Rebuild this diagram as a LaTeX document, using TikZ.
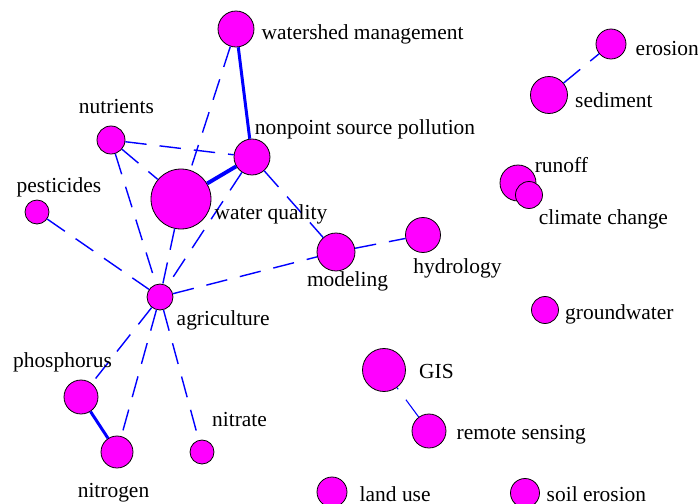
\documentclass[tikz,border=0pt]{standalone}
\usepackage{fontspec}
\setmainfont{Liberation Serif}
\usepackage{xcolor}
\usepackage{tikz}
\usetikzlibrary{positioning}

\definecolor{vcol}{RGB}{255,0,255}
\definecolor{ecol}{RGB}{0,0,255}

\begin{document}
\begin{tikzpicture}[x=0.02cm,y=-0.02cm,
		vert/.style={circle,draw=black,line width=0.45pt,fill=vcol,inner sep=0pt,minimum size=#1},
		lbl/.style={inner sep=0pt,text height=0.3cm,text depth=0.11cm,font=\fontsize{12.2pt}{14pt}\selectfont},
		weak/.style={draw=ecol,line width=0.8pt,dash pattern=on 0.43cm off 0.26cm},
		strong/.style={draw=ecol,line width=1.7pt}]
		\useasboundingbox (0,0) rectangle (698,504);
		% vertices
		\node[vert=0.72cm] (ws) at (236,29) {};
		\node[vert=0.56cm] (nu) at (111,140) {};
		\node[vert=0.72cm] (np) at (252,157) {};
		\node[vert=0.48cm] (pe) at (37,212) {};
		\node[vert=1.2cm] (wq) at (181,199) {};
		\node[vert=0.76cm] (mo) at (336,252) {};
		\node[vert=0.70cm] (hy) at (423,235) {};
		\node[vert=0.52cm] (ag) at (160,297) {};
		\node[vert=0.68cm] (ph) at (81,397) {};
		\node[vert=0.64cm] (ni) at (117,452) {};
		\node[vert=0.48cm] (nt) at (202,452) {};
		\node[vert=0.6cm] (er) at (611,44) {};
		\node[vert=0.74cm] (se) at (549,95) {};
		\node[vert=0.72cm] (ru) at (518,183) {};
		\node[vert=0.54cm] (cc) at (529,195) {};
		\node[vert=0.54cm] (gw) at (545,310) {};
		\node[vert=0.86cm] (gis) at (384,370) {};
		\node[vert=0.68cm] (rs) at (429,431) {};
		\node[vert=0.6cm] (lu) at (332,492) {};
		\node[vert=0.58cm] (so) at (525,493) {};
		
		% edges
		\draw[strong] (ws) -- (np);
		\draw[strong,line width=2.2pt] (wq) -- (np);
		\draw[strong] (ph) -- (ni);
		\draw[weak] (ws) -- (wq);
		\draw[weak] (nu) -- (np);
		\draw[weak] (nu) -- (wq);
		\draw[weak] (nu) -- (ag);
		\draw[weak] (pe) -- (ag);
		\draw[weak] (wq) -- (ag);
		\draw[weak] (np) -- (ag);
		\draw[weak] (np) -- (mo);
		\draw[weak] (ag) -- (mo);
		\draw[weak] (mo) -- (hy);
		\draw[weak] (ag) -- (ph);
		\draw[weak] (ag) -- (ni);
		\draw[weak] (ag) -- (nt);
		\draw[weak] (se) -- (er);
		\draw[weak,line width=0.6pt] (rs) -- (gis);
		
		% labels
		\node[lbl,right=0.14cm of ws.east,yshift=-0.12cm] (wsl) {watershed management};
		\node[lbl,above=0.12cm of nu.north,xshift=0.11cm] (nul) {nutrients};
		\node[lbl,right=0.05cm of np.north,yshift=0.17cm] (npl) {nonpoint source pollution};
		\node[lbl,above=0.03cm of pe.north,xshift=0.44cm] (pel) {pesticides};
		\node[lbl,right=0.06cm of wq.east,yshift=-0.32cm] (wql) {water quality};
		\node[lbl,below=-0.01cm of mo.south,xshift=0.23cm] (mol) {modeling};
		\node[lbl,below=0.11cm of hy.south,xshift=0.69cm] (hyl) {hydrology};
		\node[lbl,right=0.06cm of ag.east,yshift=-0.47cm] (agl) {agriculture};
		\node[lbl,above=0.13cm of ph.north,xshift=-0.37cm] (phl) {phosphorus};
		\node[lbl,below=0.27cm of ni.south,xshift=-0.07cm] (nil) {nitrogen};
		\node[lbl,above=0.15cm of nt.north,xshift=0.75cm] (ntl) {nitrate};
		\node[lbl,right=0.18cm of er.east,yshift=-0.14cm] (erl) {erosion};
		\node[lbl,right=0.14cm of se.east,yshift=-0.15cm] (sel) {sediment};
		\node[lbl,right=0.33cm of ru.north,yshift=-0.07cm] (rul) {runoff};
		\node[lbl,right=0.19cm of cc.south,yshift=-0.21cm] (ccl) {climate change};
		\node[lbl,right=0.12cm of gw.east,yshift=-0.1cm] (gwl) {groundwater};
		\node[lbl,right=0.26cm of gis.east,yshift=-0.07cm] (gisl) {GIS};
		\node[lbl,right=0.2cm of rs.east,yshift=-0.08cm] (rsl) {remote sensing};
		\node[lbl,text depth=0cm,right=0.24cm of lu.east,yshift=-0.03cm] (lul) {land use};
		\node[lbl,text depth=0cm,right=0.13cm of so.east,yshift=-0.01cm] (sol) {soil erosion};
	\end{tikzpicture}
\end{document}
